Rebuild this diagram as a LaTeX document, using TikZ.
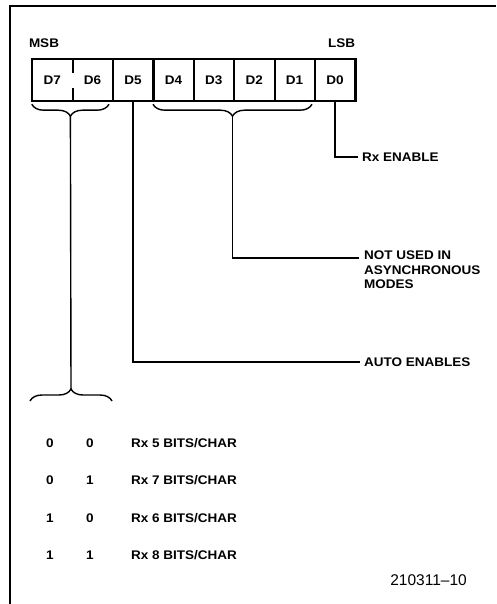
\documentclass[tikz,border=0pt]{standalone}
\usepackage{fontspec}
\setmainfont{Liberation Sans}
\newfontfamily\widesans[FakeStretch=1.08]{Liberation Sans}
\usetikzlibrary{positioning,calc,decorations.pathreplacing}
\tikzset{
  bitcell/.style={minimum width=40.4pt,minimum height=42pt,inner sep=0pt,
                  font=\widesans\bfseries\fontsize{12.5}{14}\selectfont},
  lbl/.style={font=\widesans\bfseries\fontsize{12.5}{14.5}\selectfont,inner sep=0pt,align=left},
  wire/.style={line width=1.4pt,black},
  reg/.style={line width=2.2pt,black},
  brc/.style={line width=1.4pt,decorate,decoration={brace,amplitude=12pt}},
}

\begin{document}
\begin{tikzpicture}[x=1pt,y=-1pt]
    \useasboundingbox (0,0) rectangle (496,604);
    \draw[wire] (10,604) -- (10,6) -- (496,6);
    % register
    \foreach \b [count=\i from 0] in {7,6,5,4,3,2,1,0}
      \node[bitcell] (d\b) at ({52.2+40.4*\i},80) {D\b};
    \draw[reg] (d7.north west) rectangle (d0.south east);
    \foreach \c in {d6,d5,d4,d3,d2,d1}
      \draw[reg] (\c.north east) -- (\c.south east);
    \draw[reg] (d7.north east) -- ++(0,14);
    \draw[reg] (d7.south east) -- ++(0,-13);
    \node[lbl,anchor=south west] (msb) at ($(d7.north west)+(-3,-11)$) {MSB};
    \node[lbl,anchor=south east] (lsb) at ($(d0.north east)+(0,-11)$) {LSB};
    % braces and leads
    \draw[brc] ($(d6.south east)+(-4,3)$) -- ($(d7.south west)+(0,3)$);
    \draw[brc] ($(d1.south east)+(-3,3)$) -- ($(d4.south west)+(0,3)$);
    \coordinate (msbtip) at (70.4,116);
    \coordinate (midtip) at (232.6,116);
    \coordinate (lowl) at (30,401);
    \coordinate (lowr) at (112,401);
    \coordinate (lowtip) at (71,390);
    \draw[brc] (lowl) -- (lowr);
    \draw[wire] (msbtip) -- (lowtip);
    \node[lbl,anchor=west] (rxen) at (362,157) {Rx ENABLE};
    \draw[wire] (d0.south) |- ([xshift=-4pt]rxen.west);
    \node[lbl,anchor=north west] (notused) at (364,251) {NOT USED IN\\ASYNCHRONOUS\\MODES};
    \draw[wire] (midtip) |- ($(notused.north west)+(-5,7)$);
    \node[lbl,anchor=west] (auto) at (364,362) {AUTO ENABLES};
    \draw[wire] (d5.south) |- ([xshift=-4pt]auto.west);
    % character length table
    \foreach \a/\c/\nb [count=\r] in {0/0/5,0/1/7,1/0/6,1/1/8} {
      \node[lbl] (hi\r) at (50,405.5+37.5*\r) {\a};
      \node[lbl] (lo\r) at (90,405.5+37.5*\r) {\c};
      \node[lbl,anchor=west] (bits\r) at (131,405.5+37.5*\r) {Rx \nb\ BITS/CHAR};
    }
    \node[font=\fontsize{15.5}{17}\selectfont,anchor=east,inner sep=0pt] (fignum) at (467,580) {210311--10};
  \end{tikzpicture}
\end{document}
